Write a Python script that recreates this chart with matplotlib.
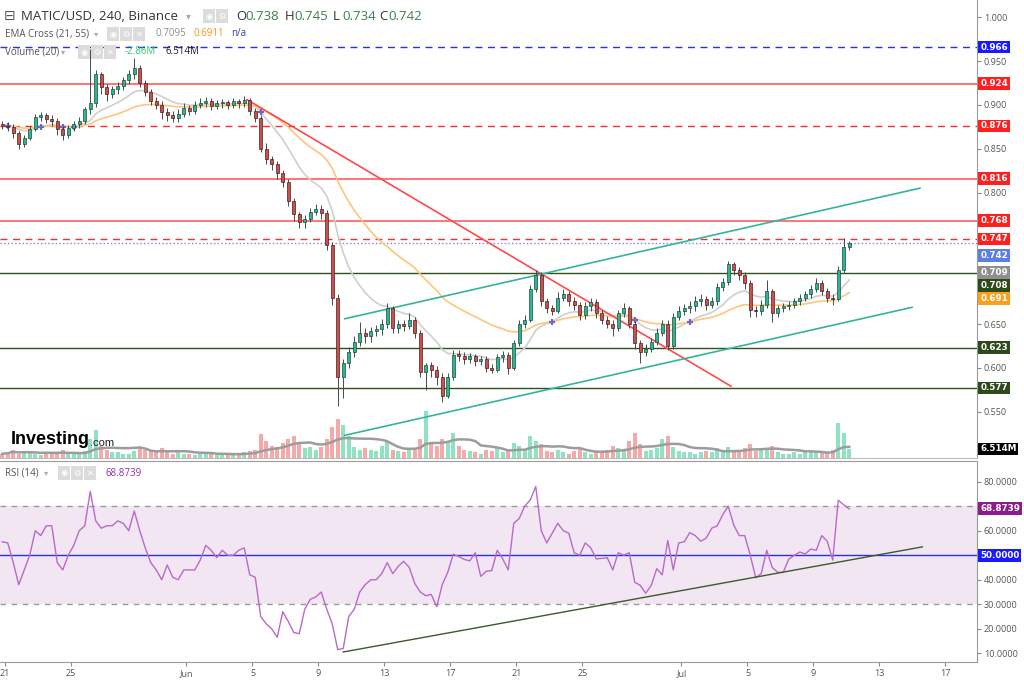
import numpy as np
import pandas as pd
import matplotlib
matplotlib.use('Agg')
import matplotlib.pyplot as plt

plt.rcParams['font.family'] = ['Open Sans', 'DejaVu Sans']

# ---- data (8h candles, x = days since May 21) ----
first_open = 0.878
closes = [
    0.876, 0.875, 0.868, 0.855, 0.862, 0.873, 0.886, 0.888, 0.884, 0.882,
    0.872, 0.866, 0.874, 0.878, 0.882, 0.895, 0.902, 0.935, 0.920, 0.912,
    0.918, 0.921, 0.928, 0.935, 0.942, 0.925, 0.915, 0.905, 0.900, 0.892,
    0.888, 0.885, 0.890, 0.897, 0.893, 0.900, 0.902, 0.905, 0.899, 0.902,
    0.903, 0.900, 0.904, 0.902, 0.906, 0.893, 0.885, 0.850, 0.838, 0.832,
    0.822, 0.812, 0.790, 0.775, 0.766, 0.770, 0.778, 0.781, 0.777, 0.740,
    0.680, 0.590, 0.605, 0.618, 0.630, 0.640, 0.636, 0.642, 0.644, 0.650,
    0.668, 0.645, 0.650, 0.648, 0.655, 0.640, 0.595, 0.603, 0.598, 0.590,
    0.568, 0.590, 0.615, 0.614, 0.610, 0.613, 0.608, 0.610, 0.600, 0.598,
    0.612, 0.615, 0.600, 0.628, 0.650, 0.655, 0.690, 0.706, 0.676, 0.668,
    0.665, 0.680, 0.684, 0.676, 0.672, 0.660, 0.670, 0.675, 0.662, 0.655,
    0.650, 0.645, 0.662, 0.668, 0.650, 0.628, 0.618, 0.622, 0.630, 0.640,
    0.650, 0.625, 0.658, 0.665, 0.668, 0.670, 0.676, 0.678, 0.672, 0.676,
    0.692, 0.698, 0.718, 0.712, 0.706, 0.697, 0.666, 0.665, 0.672, 0.688,
    0.662, 0.668, 0.670, 0.672, 0.676, 0.680, 0.684, 0.690, 0.697, 0.688,
    0.680, 0.678, 0.712, 0.738, 0.742]
highs = [
    0.882, 0.880, 0.878, 0.870, 0.866, 0.876, 0.890, 0.892, 0.891, 0.888,
    0.885, 0.876, 0.877, 0.882, 0.886, 0.898, 0.964, 0.940, 0.938, 0.924,
    0.922, 0.926, 0.932, 0.940, 0.953, 0.945, 0.928, 0.918, 0.909, 0.904,
    0.896, 0.893, 0.895, 0.902, 0.900, 0.905, 0.908, 0.909, 0.908, 0.906,
    0.907, 0.906, 0.908, 0.907, 0.910, 0.908, 0.896, 0.888, 0.856, 0.842,
    0.836, 0.826, 0.815, 0.794, 0.778, 0.774, 0.782, 0.787, 0.786, 0.780,
    0.744, 0.684, 0.610, 0.624, 0.636, 0.652, 0.646, 0.647, 0.649, 0.656,
    0.674, 0.670, 0.655, 0.654, 0.662, 0.658, 0.643, 0.606, 0.607, 0.602,
    0.594, 0.594, 0.620, 0.620, 0.618, 0.617, 0.616, 0.614, 0.613, 0.604,
    0.616, 0.619, 0.618, 0.632, 0.655, 0.660, 0.695, 0.712, 0.709, 0.680,
    0.672, 0.686, 0.690, 0.688, 0.681, 0.675, 0.675, 0.680, 0.678, 0.666,
    0.659, 0.654, 0.666, 0.674, 0.671, 0.653, 0.632, 0.627, 0.634, 0.646,
    0.655, 0.654, 0.663, 0.670, 0.673, 0.676, 0.682, 0.684, 0.682, 0.681,
    0.697, 0.703, 0.722, 0.721, 0.715, 0.709, 0.700, 0.671, 0.677, 0.700,
    0.690, 0.672, 0.674, 0.676, 0.680, 0.684, 0.688, 0.694, 0.702, 0.700,
    0.691, 0.684, 0.716, 0.748, 0.745]
lows = [
    0.872, 0.870, 0.862, 0.850, 0.852, 0.860, 0.870, 0.882, 0.879, 0.876,
    0.866, 0.860, 0.862, 0.870, 0.874, 0.878, 0.890, 0.898, 0.912, 0.905,
    0.908, 0.913, 0.917, 0.924, 0.930, 0.920, 0.910, 0.900, 0.895, 0.884,
    0.882, 0.880, 0.881, 0.886, 0.888, 0.890, 0.896, 0.898, 0.894, 0.895,
    0.897, 0.895, 0.896, 0.897, 0.898, 0.888, 0.880, 0.846, 0.832, 0.826,
    0.815, 0.806, 0.785, 0.768, 0.760, 0.760, 0.766, 0.774, 0.770, 0.735,
    0.672, 0.557, 0.565, 0.600, 0.612, 0.625, 0.628, 0.630, 0.636, 0.638,
    0.645, 0.640, 0.640, 0.642, 0.644, 0.634, 0.590, 0.575, 0.590, 0.580,
    0.561, 0.565, 0.586, 0.608, 0.604, 0.606, 0.602, 0.603, 0.595, 0.594,
    0.595, 0.607, 0.593, 0.598, 0.625, 0.645, 0.652, 0.686, 0.670, 0.662,
    0.660, 0.662, 0.676, 0.670, 0.666, 0.654, 0.656, 0.665, 0.657, 0.650,
    0.645, 0.636, 0.642, 0.658, 0.645, 0.622, 0.605, 0.614, 0.618, 0.626,
    0.636, 0.620, 0.622, 0.654, 0.660, 0.662, 0.665, 0.670, 0.666, 0.668,
    0.672, 0.688, 0.694, 0.706, 0.700, 0.690, 0.658, 0.658, 0.660, 0.668,
    0.652, 0.658, 0.664, 0.666, 0.668, 0.672, 0.676, 0.680, 0.686, 0.683,
    0.675, 0.672, 0.676, 0.708, 0.734]
volumes = [
    3, 4, 6, 3, 5, 4, 3, 2, 4, 3, 3, 6, 4, 3, 3, 5,
    14, 20,
    9, 6, 4, 4, 3, 3, 5, 8, 6, 5, 4, 7, 4,
    3, 4, 3, 3, 2, 3, 4, 3, 2, 3, 3, 2, 3, 4,
    5, 6, 17, 12, 9, 8, 11, 14, 16, 10, 7, 8, 6, 8, 14, 22,
    28, 24, 16, 8, 6, 7, 6, 5, 9, 12,
    6, 5, 4, 6, 7, 14, 34, 11, 9, 14, 12, 18,
    9, 6, 5, 4, 3, 6, 5, 7, 4, 5, 11, 9, 6,
    16, 12, 10, 5, 4, 6, 4, 3, 5, 7, 4, 3, 5, 4, 6,
    9, 7, 6, 12, 18, 10, 5, 6, 7, 14, 16, 8, 5, 4, 4,
    3, 4, 5, 4, 7, 5, 8, 5, 6, 7, 10, 5, 6, 7, 9,
    4, 3, 3, 4, 3, 4, 5, 4, 5, 4, 6, 25, 18, 6.514]
rsi = [
    55.5, 55, 47, 38, 44, 50, 60, 58, 62, 62,
    47, 44, 50, 54, 60, 62, 76, 64, 61, 62,
    62, 64, 63, 60, 68, 60, 53, 47, 44, 40,
    46, 41, 40, 44, 44, 44, 48, 54, 52, 49,
    52, 50, 50, 52, 53, 42, 41, 25, 22, 20,
    16.5, 27, 23, 18.5, 18, 28, 32, 33, 35, 28,
    22, 11.5, 12, 25, 28, 35, 38, 40, 40, 42.5,
    47, 42.5, 45.5, 47.5, 45, 38.5, 35, 33.5, 34, 29,
    38, 43, 50.4, 49.5, 48.3, 47.7, 51, 41.4, 43.5, 43.7,
    52, 48.5, 44, 63, 65, 70, 72.5, 78, 60, 55,
    59, 63, 60, 59, 51, 50, 55, 53, 48.5, 48.7,
    49, 44, 51, 50, 51, 39, 37.7, 34.5, 37.7, 44.5,
    42, 56, 44, 55, 55.5, 59.2, 58, 55.7, 57, 61,
    62, 66.5, 70, 62.3, 58, 58, 50, 40.8, 42.5, 52,
    45, 43, 43, 48.4, 49.9, 51.3, 50.5, 52.5, 52, 58,
    55.7, 48, 72.4, 70.5, 68.87]

red_solid = [0.924, 0.816, 0.768]
red_dashed = [0.876, 0.747]
green_levels = [0.708, 0.623, 0.577]
blue_level = 0.966
last_price = 0.742
ema_tags = [0.709, 0.691]

# trend lines (day, price)
red_line = ([14.67, 44.0], [0.906, 0.579])
chan_up = ([20.6, 55.45], [0.656, 0.805])
chan_lo = ([20.6, 54.97], [0.523, 0.669])
rsi_line = ([20.5, 55.6], [10.55, 53.4])

tick_days = [0, 4, 11, 15, 19, 23, 27, 31, 35, 41, 45, 49, 53, 57]
tick_labels = ['21', '25', 'Jun', '5', '9', '13', '17', '21', '25', 'Jul',
               '5', '9', '13', '17']
price_ticks = [0.55, 0.60, 0.65, 0.70, 0.75, 0.80, 0.85, 0.90, 0.95, 1.00]
price_hidden = [0.70, 0.75]      # covered by the price tags
rsi_ticks = [10, 20, 30, 40, 50, 60, 70, 80]
rsi_hidden = [50, 70]

# ---- figure ----
W, H = 1024, 682
fig = plt.figure(figsize=(W / 100, H / 100), dpi=100)


def fx(px):
    return px / W


def fy(py):
    return 1 - py / H


ax = fig.add_axes([0, fy(458), fx(977), 458 / H])
rax = fig.add_axes([0, fy(662), fx(977), (662 - 461) / H])
vax = ax.twinx()
ax.set_zorder(2)
ax.patch.set_visible(False)

t = -1 / 6 + np.arange(len(closes)) / 3
c = np.array(closes)
o = np.array([first_open] + closes[:-1])
up = c >= o
xlim = (-0.303, 58.91)

# volume
vcol = np.where(up, '#8fe3c0', '#f6a9a9')
vax.bar(t, volumes, width=0.22, color=vcol, linewidth=0)
vma = pd.Series(volumes).rolling(10, min_periods=1).mean()
vax.plot(t, vma, color='#9c9c9c', lw=1.8)
vax.set_ylim(0, 330)
vax.set_xlim(*xlim)
vax.axis('off')

# levels
for lv in red_solid:
    ax.axhline(lv, color='#ff5c5c', lw=1.2)
for lv in red_dashed:
    ax.axhline(lv, color='#ff2a2a', lw=1, dashes=(5, 4))
for lv in green_levels:
    ax.axhline(lv, color='#33511f', lw=1)
ax.axhline(blue_level, color='#2a2aff', lw=1, dashes=(5, 4))
ax.axhline(last_price, color='#6a85ff', lw=1, ls=':')

# EMAs
ema21 = pd.Series(closes).ewm(span=13, adjust=False).mean()
ema55 = pd.Series(closes).ewm(span=32, adjust=False).mean()
ax.plot(t, ema21, color='#cfcfcf', lw=1.2)
ax.plot(t, ema55, color='#ffc57a', lw=1.2)
diff = np.sign(ema21 - ema55)
cross = np.where(diff.diff().fillna(0) != 0)[0]
ax.plot(t[cross], ema21.values[cross], '+', color='#7466c8', ms=5, mew=1.6)

# trend lines
ax.plot(*red_line, color='#ff4a4a', lw=1.2)
ax.plot(*chan_up, color='#35b39d', lw=1.2)
ax.plot(*chan_lo, color='#35b39d', lw=1.2)

# candles
ax.vlines(t, lows, highs, color='#3f4f47', lw=0.7, zorder=3)
bottoms = np.minimum(o, c)
heights = np.maximum(np.abs(c - o), 0.0012)
ax.bar(t, heights, bottom=bottoms, width=0.17,
       color=np.where(up, '#2bb593', '#c7514d'),
       edgecolor=np.where(up, '#1d4a3c', '#4d1c1c'), linewidth=0.5, zorder=4)

ax.set_xlim(*xlim)
ax.set_ylim(0.4971, 1.0197)
ax.yaxis.tick_right()
ax.set_yticks(price_ticks)
ax.set_yticklabels(['' if v in price_hidden else '%.3f' % v for v in price_ticks])
ax.tick_params(axis='y', length=3, color='#888888', labelsize=6.5,
               labelcolor='#555555', pad=2)
ax.set_xticks(tick_days)
ax.tick_params(axis='x', length=0, labelbottom=False)
for s in ['top', 'left']:
    ax.spines[s].set_visible(False)
ax.spines['right'].set_color('#9a9a9a')
ax.spines['bottom'].set_color('#bbbbbb')


def tag(a, y, text, fc, dy=0):
    a.annotate(text, xy=(1, y), xycoords=('axes fraction', 'data'),
               xytext=(2.3, dy), textcoords='offset points', ha='left',
               va='center', fontsize=6.3, color='white', fontweight='bold',
               family='DejaVu Sans',
               bbox=dict(boxstyle='square,pad=0.22', fc=fc, ec='none'),
               annotation_clip=False, zorder=10)


tag(ax, blue_level, '0.966', '#1a1aff')
for lv in red_solid + red_dashed:
    tag(ax, lv, '%.3f' % lv, '#ff1f1f')
tag(ax, last_price, '%.3f' % last_price, '#5b7fe6', dy=-8.5)
tag(ax, ema_tags[0], '%.3f' % ema_tags[0], '#8f8f8f')
tag(ax, green_levels[0], '%.3f' % green_levels[0], '#2e4a1a', dy=-8.8)
tag(ax, ema_tags[1], '%.3f' % ema_tags[1], '#ff9e1a', dy=-7.4)
for lv in green_levels[1:]:
    tag(ax, lv, '%.3f' % lv, '#2e4a1a')
vax.annotate('6.514M', xy=(1, volumes[-1]), xycoords=('axes fraction', 'data'),
             xytext=(2.3, 0), textcoords='offset points', ha='left',
             va='center', fontsize=6.3, color='white', fontweight='bold',
             family='DejaVu Sans',
             bbox=dict(boxstyle='square,pad=0.22', fc='black', ec='none'),
             annotation_clip=False)

# ---- RSI panel ----
rax.axhspan(30, 70, color='#f2e6f2', lw=0)
rax.axhline(70, color='#9a9a9a', lw=1, dashes=(4, 4))
rax.axhline(30, color='#9a9a9a', lw=1, dashes=(4, 4))
rax.axhline(50, color='#2a2aff', lw=1)
rax.plot(t, rsi, color='#b86ac9', lw=1)
rax.plot(*rsi_line, color='#3d5a2c', lw=1)
rax.set_xlim(*xlim)
rax.set_ylim(6.47, 88.4)
rax.yaxis.tick_right()
rax.set_yticks(rsi_ticks)
rax.set_yticklabels(['' if v in rsi_hidden else '%.4f' % v for v in rsi_ticks])
rax.tick_params(axis='y', length=3, color='#888888', labelsize=6.5,
                labelcolor='#555555', pad=2)
rax.set_xticks(tick_days)
rax.set_xticklabels(tick_labels)
rax.tick_params(axis='x', length=3, color='#888888', labelsize=6.5,
                labelcolor='#555555', pad=2)
rax.spines['left'].set_visible(False)
for s in ['right', 'bottom', 'top']:
    rax.spines[s].set_color('#9a9a9a')
tag(rax, rsi[-1], '68.8739', '#8e1b8e')
tag(rax, 50, '50.0000', '#1a1aff')

# ---- header texts ----
def icons(x0, y, n):
    for k, g in enumerate(['◉', '⚙', '✕'][:n]):
        fig.text(fx(x0 + k * 13), fy(y), g, fontsize=6, color='white',
                 va='center', ha='center', family='DejaVu Sans',
                 bbox=dict(boxstyle='square,pad=0.25', fc='#dcdcdc', ec='none'))


fig.text(fx(4), fy(16), '⊟', fontsize=10, color='#555555', va='center',
         family='DejaVu Sans')
fig.text(fx(21), fy(16), 'MATIC/USD, 240, Binance', fontsize=9.5,
         color='#333333', va='center')
fig.text(fx(186), fy(16), '▾', fontsize=7, color='#aaaaaa', va='center',
         family='DejaVu Sans')
icons(209, 16, 2)
ohlc = [('O', '0.738'), ('H', '0.745'), ('L', '0.734'), ('C', '0.742')]
xs = [236, 285, 333, 379]
for (k, v), xp in zip(ohlc, xs):
    fig.text(fx(xp), fy(16), k, fontsize=9.5, color='#333333', va='center')
    fig.text(fx(xp + 9), fy(16), v, fontsize=9.5, color='#3e7f4a', va='center')

fig.text(fx(5), fy(34), 'EMA Cross (21, 55)', fontsize=7, color='#555555',
         va='center')
fig.text(fx(94), fy(34), '▾', fontsize=6, color='#aaaaaa', va='center',
         family='DejaVu Sans')
icons(113, 34, 3)
fig.text(fx(155), fy(34), '0.7095', fontsize=7, color='#8f8f8f', va='center')
fig.text(fx(193), fy(34), '0.6911', fontsize=7, color='#f7931e', va='center')
fig.text(fx(231), fy(34), 'n/a', fontsize=7, color='#3a3aa8', va='center')

fig.text(fx(5), fy(52), 'Volume (20)', fontsize=7, color='#555555', va='center')
fig.text(fx(61), fy(52), '▾', fontsize=6, color='#aaaaaa', va='center',
         family='DejaVu Sans')
icons(84, 52, 3)
fig.text(fx(125), fy(52), '-2.86M', fontsize=7, color='#2ecc71', va='center')
fig.text(fx(165), fy(52), '6.514M', fontsize=7, color='#222222', va='center')

fig.text(fx(5), fy(473), 'RSI (14)', fontsize=7, color='#555555', va='center')
fig.text(fx(44), fy(473), '▾', fontsize=6, color='#aaaaaa', va='center',
         family='DejaVu Sans')
icons(64, 473, 3)
fig.text(fx(106), fy(473), '68.8739', fontsize=7, color='#9c27b0', va='center')

fig.text(fx(11), fy(440), 'Investing', fontsize=13, fontweight='bold',
         color='black', va='center', family=['Liberation Sans', 'DejaVu Sans'])
fig.text(fx(90), fy(443), '.com', fontsize=8, color='#222222', va='center',
         family=['Liberation Sans', 'DejaVu Sans'])

fig.savefig('out.png', dpi=100)
